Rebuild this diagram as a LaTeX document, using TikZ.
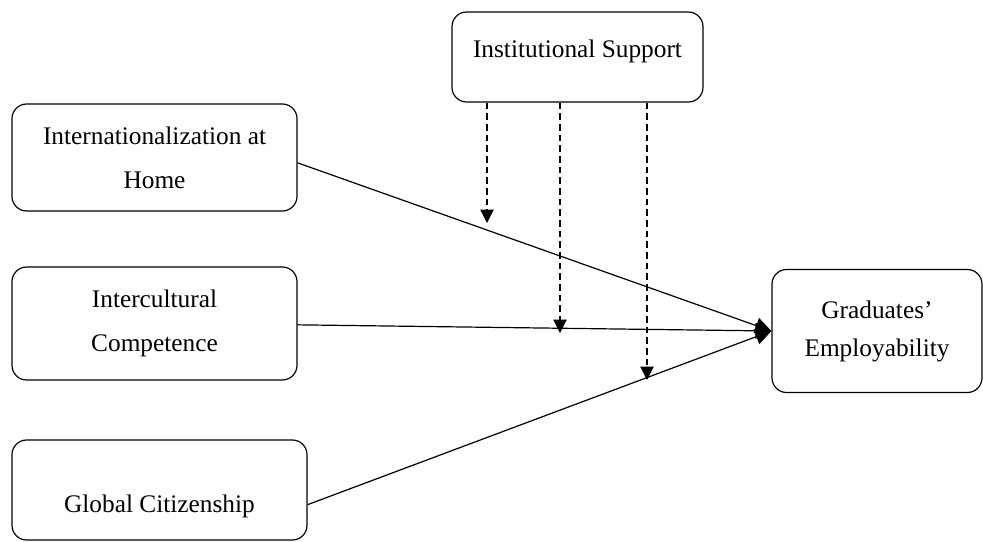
\documentclass[tikz,border=0pt]{standalone}
\usepackage{fontspec}
\setmainfont{Liberation Serif}
\usetikzlibrary{arrows.meta, positioning}

\begin{document}
\begin{tikzpicture}[x=0.75pt, y=-0.75pt,
    box/.style={draw, rounded corners=11pt, line width=0.9pt, align=center,
                font=\fontsize{19}{33}\selectfont},
    path/.style={line width=0.9pt, -{Triangle[length=12pt, width=12pt]}},
    moderate/.style={dash pattern=on 5pt off 3pt, line width=0.8pt, -{Triangle[length=10pt, width=10pt]}}]
    \useasboundingbox (0,0) rectangle (983,542);
    \node[box, minimum width=188.25pt, minimum height=67.5pt, text depth=13pt] (inst) at (577.5,57) {Institutional Support};
    \node[box, minimum width=213.75pt, minimum height=80.25pt] (iah) at (154.5,157.5) {Internationalization at\\Home};
    \node[box, minimum width=213.75pt, minimum height=84.75pt] (icc) at (154.5,323.5) {Intercultural\\Competence};
    \node[box, minimum width=221.25pt, minimum height=75pt, text height=37pt, text depth=4pt] (gcz) at (159.5,490) {Global Citizenship};
    \node[box, minimum width=157.5pt, minimum height=92.25pt,
          font=\fontsize{19}{28.5}\selectfont] (gem) at (877,331) {Graduates'\\Employability};
    \draw[path] ([yshift=-4pt]iah.east) -- (gem.west);
    \draw[path] ([yshift=-1pt]icc.east) -- (gem.west);
    \draw[path] ([yshift=-11pt]gcz.east) -- (gem.west);
    \coordinate (m1) at (487,223);
    \coordinate (m2) at (560,333);
    \coordinate (m3) at (647,380);
    \draw[moderate] (inst.south -| m1) -- (m1);
    \draw[moderate] (inst.south -| m2) -- (m2);
    \draw[moderate] (inst.south -| m3) -- (m3);
\end{tikzpicture}
\end{document}
